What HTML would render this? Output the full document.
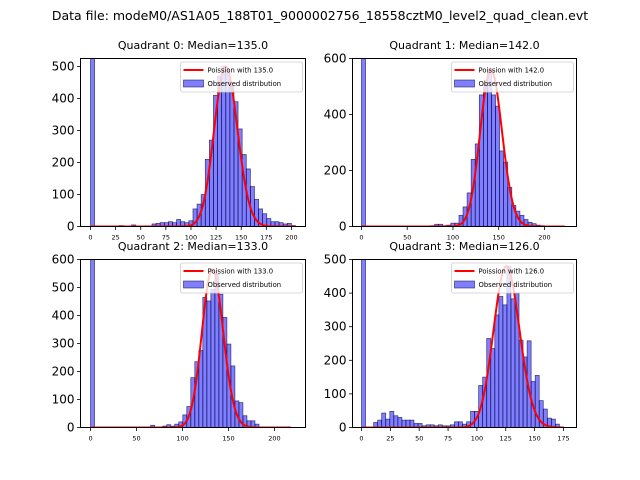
<!DOCTYPE html>
<html><head><meta charset="utf-8">
<style>
html,body{margin:0;padding:0;background:#fff;}
svg{display:block;font-family:"DejaVu Sans","Liberation Sans",sans-serif;}
</style></head>
<body>
<svg id="fig" width="640" height="480" xmlns="http://www.w3.org/2000/svg">
<text x="320" y="20" text-anchor="middle" font-size="12.5">Data file: modeM0/AS1A05_188T01_9000002756_18558cztM0_level2_quad_clean.evt</text>
</svg>
<script>
// ---- data ----
const quadrantNames = ["Quadrant 0", "Quadrant 1", "Quadrant 2", "Quadrant 3"];
const medians = [135.0, 142.0, 133.0, 126.0];
const binMax = [204, 222, 218, 175];
const poissonPeaks = [500, 560, 565, 480];
const q0Counts = [3000,2,1,2,2,1,1,3,1,2,5,1,2,1,2,8,10,12,12,15,12,22,15,12,18,55,70,100,210,270,410,470,500,480,440,390,305,225,180,125,85,55,40,25,15,15,12,8,10,3];
const q1Counts = [3000,0,0,0,0,0,0,0,0,0,0,0,0,0,0,0,0,3,8,8,3,5,12,12,40,70,120,240,295,470,510,550,470,430,270,230,140,75,55,40,25,15,10,5,3,2,1,1,1,1];
const q2Counts = [3000,0,0,0,0,0,0,0,0,0,0,0,0,0,0,8,0,2,5,10,5,12,20,45,75,178,235,275,465,452,494,547,476,393,298,220,95,89,42,24,24,12,2,1,1,1,0,0,0,0];
const q3Counts = [3000,0,0,15,22,43,25,48,35,30,22,22,22,12,12,5,8,8,5,8,5,5,8,17,17,10,17,48,48,125,150,265,235,335,390,365,480,383,400,260,210,258,137,155,80,55,28,25,10,2];
const q0Ticks = [0,25,50,75,100,125,150,175,200];
const q1Ticks = [0,50,100,150,200];
const q2Ticks = [0,50,100,150,200];
const q3Ticks = [0,25,50,75,100,125,150,175];
const q0YTicks = [0,100,200,300,400,500];
const q1YTicks = [0,200,400,600];
const q2YTicks = [0,100,200,300,400,500,600];
const q3YTicks = [0,100,200,300,400,500];
const allCounts = [q0Counts, q1Counts, q2Counts, q3Counts];
const allXTicks = [q0Ticks, q1Ticks, q2Ticks, q3Ticks];
const allYTicks = [q0YTicks, q1YTicks, q2YTicks, q3YTicks];
const yMaxes = [525, 600, 600, 500];

// ---- layout ----
const boxes = [
  {x0:80.5,x1:305.5,y0:58.5,y1:226.5,xmin:-9.95,xmax:214},
  {x0:352.5,x1:576.5,y0:58.5,y1:226.5,xmin:-9.8,xmax:235},
  {x0:80.5,x1:305.5,y0:259.5,y1:427.5,xmin:-10.9,xmax:233.7},
  {x0:352.5,x1:576.5,y0:259.5,y1:427.5,xmin:-7.8,xmax:186.3}
];
const NS = "http://www.w3.org/2000/svg";
const svg = document.getElementById('fig');
function mk(tag, attrs, parent){
  const e = document.createElementNS(NS, tag);
  for (const k in attrs) e.setAttribute(k, attrs[k]);
  (parent||svg).appendChild(e);
  return e;
}
function lgamma(n){ let s=0; for(let i=2;i<=n;i++) s+=Math.log(i); return s; }
function pmf(k, lam){ return Math.exp(k*Math.log(lam) - lam - lgamma(k)); }

for (let q=0;q<4;q++){
  const b = boxes[q];
  const counts = allCounts[q];
  const ymax = yMaxes[q];
  const xs = v => b.x0 + (v - b.xmin)/(b.xmax - b.xmin)*(b.x1-b.x0);
  const ys = v => b.y1 - v/ymax*(b.y1-b.y0);
  const g = mk('g', {});
  
  
  const clipId = 'clip'+q;
  const cp = mk('clipPath', {id:clipId}, g);
  mk('rect', {x:b.x0, y:b.y0, width:b.x1-b.x0, height:b.y1-b.y0}, cp);
  const plot = mk('g', {'clip-path':'url(#'+clipId+')'}, g);
  const bw = binMax[q]/counts.length;
  counts.forEach((c,i)=>{
    const xa = xs(i*bw), xb = xs((i+1)*bw);
    const r = mk('rect', {x:xa, y:ys(c), width:Math.max(0,xb-xa), height:Math.max(0,ys(0)-ys(c)),
      fill:'rgba(0,0,255,0.5)', stroke:'rgba(0,0,60,0.7)', 'stroke-width':0.7}, plot);
    
    
  });
  const lam = medians[q];
  const amp = poissonPeaks[q]/pmf(Math.floor(lam), lam);
  let d = '';
  for (let k=0;k<=binMax[q];k++){
    d += (k?'L':'M') + xs(k).toFixed(2) + ',' + ys(amp*pmf(k,lam)).toFixed(2);
  }
  const pl = mk('path', {d:d, fill:'none', stroke:'#ff0000', 'stroke-width':2}, plot);
  
  
  const fr = mk('rect', {x:b.x0, y:b.y0, width:b.x1-b.x0, height:b.y1-b.y0, fill:'none', stroke:'#000', 'stroke-width':1}, g);
  
  
  allXTicks[q].forEach(t=>{
    const x = xs(t);
    mk('line', {x1:x, x2:x, y1:b.y1, y2:b.y1+3.5, stroke:'#000', 'stroke-width':0.8}, g);
    const tx = mk('text', {x:x, y:b.y1+13, 'text-anchor':'middle', 'font-size':6.5}, g);
    tx.textContent = t;
    
    
  });
  allYTicks[q].forEach(t=>{
    const y = ys(t);
    mk('line', {x1:b.x0-3.5, x2:b.x0, y1:y, y2:y, stroke:'#000', 'stroke-width':0.8}, g);
    const ty = mk('text', {x:b.x0-6, y:y+4, 'text-anchor':'end', 'font-size':12}, g);
    ty.textContent = t;
    
    
  });
  const tt = mk('text', {x:(b.x0+b.x1)/2, y:b.y0-9.5, 'text-anchor':'middle', 'font-size':11}, g);
  tt.textContent = quadrantNames[q] + ': Median=' + medians[q].toFixed(1);
  
  
  const lw = 122;
  const lx = b.x1-3-lw, ly = b.y0+3.5;
  const lg = mk('g', {}, g);
  
  
  mk('rect', {x:lx, y:ly, width:lw, height:30, rx:2, fill:'rgba(255,255,255,0.8)', stroke:'#ccc', 'stroke-width':0.8}, lg);
  mk('line', {x1:lx+3, x2:lx+23, y1:ly+8, y2:ly+8, stroke:'#ff0000', 'stroke-width':2}, lg);
  const t1 = mk('text', {x:lx+27, y:ly+10.5, 'font-size':6.8}, lg);
  t1.textContent = 'Poission with ' + medians[q].toFixed(1);
  
  
  mk('rect', {x:lx+3, y:ly+18, width:20, height:7, fill:'rgba(0,0,255,0.5)', stroke:'rgba(0,0,60,0.7)', 'stroke-width':0.7}, lg);
  const t2 = mk('text', {x:lx+27, y:ly+24, 'font-size':6.8}, lg);
  t2.textContent = 'Observed distribution';
  
  
}
</script>
</body></html>
